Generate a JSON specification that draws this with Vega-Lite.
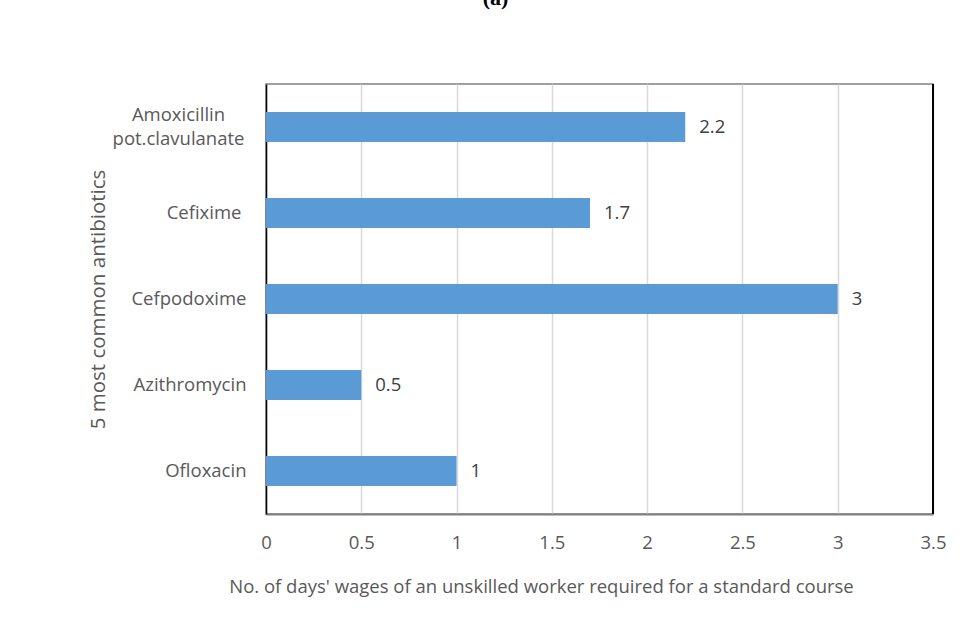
{
  "$schema": "https://vega.github.io/schema/vega-lite/v6.json",
  "autosize": "none",
  "width": 667,
  "height": 430,
  "padding": {"left": 266, "top": 84, "right": 39, "bottom": 125},
  "background": "white",
  "title": {
    "text": "(a)",
    "font": "Liberation Serif",
    "fontSize": 22,
    "fontWeight": "bold",
    "color": "#000000",
    "anchor": "middle",
    "frame": "group",
    "dx": -104,
    "offset": 56,
    "baseline": "alphabetic"
  },
  "config": {
    "font": "Open Sans",
    "view": {"stroke": "#808080", "strokeWidth": 1.5},
    "axis": {"labelFont": "Open Sans", "titleFont": "Open Sans"}
  },
  "data": {
    "values": [
      {"antibiotic": "Amoxicillin pot.clavulanate", "days": 2.2},
      {"antibiotic": "Cefixime", "days": 1.7},
      {"antibiotic": "Cefpodoxime", "days": 3},
      {"antibiotic": "Azithromycin", "days": 0.5},
      {"antibiotic": "Ofloxacin", "days": 1}
    ]
  },
  "encoding": {
    "y": {
      "field": "antibiotic",
      "type": "nominal",
      "sort": null,
      "scale": {"paddingInner": 0.65, "paddingOuter": 0.325},
      "axis": {
        "title": "5 most common antibiotics",
        "titleFontSize": 20.5,
        "titleFontWeight": "normal",
        "titleColor": "#595959",
        "titlePadding": 4,
        "labelExpr": "datum.value == 'Amoxicillin pot.clavulanate' ? ['Amoxicillin', 'pot.clavulanate'] : datum.label",
        "labelFontSize": 18.5,
        "labelColor": "#595959",
        "labelPadding": {"condition": [{"test": "datum.value == 'Amoxicillin pot.clavulanate'", "value": 88}, {"test": "datum.value == 'Cefixime'", "value": 25}], "value": 20},
        "labelAlign": {"condition": {"test": "datum.value == 'Amoxicillin pot.clavulanate'", "value": "center"}, "value": "right"},
        "labelOffset": {"condition": {"test": "datum.value == 'Amoxicillin pot.clavulanate'", "value": -12}, "value": 0},
        "labelLineHeight": 24,
        "ticks": false,
        "domainColor": "#000000",
        "domainWidth": 1.5,
        "labelLimit": 300
      }
    },
    "x": {
      "field": "days",
      "type": "quantitative",
      "scale": {"domain": [0, 3.5], "nice": false},
      "axis": {
        "title": "No. of days' wages of an unskilled worker required for a standard course",
        "titleFontSize": 18.5,
        "titleFontWeight": "normal",
        "titleColor": "#595959",
        "titlePadding": 26,
        "titleX": 275,
        "values": [0, 0.5, 1, 1.5, 2, 2.5, 3, 3.5],
        "format": "",
        "labelFontSize": 18.5,
        "labelColor": "#595959",
        "labelPadding": 19,
        "ticks": false,
        "grid": true,
        "gridColor": "#d9d9d9",
        "gridWidth": 1.5,
        "domainColor": "#808080",
        "domainWidth": 2,
        "labelFlush": false
      }
    }
  },
  "layer": [
    {"mark": {"type": "bar", "color": "#5B9BD5"}},
    {
      "mark": {"type": "text", "align": "left", "dx": 14, "fontSize": 18.5, "color": "#404040", "font": "Open Sans"},
      "encoding": {"text": {"field": "days", "type": "quantitative", "format": ""}}
    },
    {
      "mark": {"type": "rule", "color": "#000000", "strokeWidth": 1.5},
      "encoding": {"x": {"datum": 3.5}, "y": {"value": 0}, "y2": {"value": 430}}
    }
  ]
}
